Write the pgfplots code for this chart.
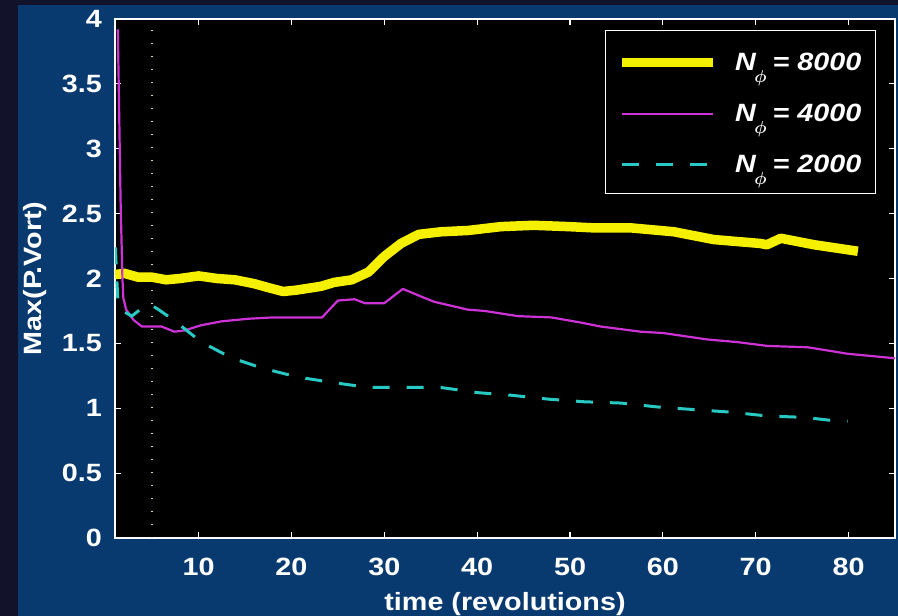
\documentclass[border=0pt]{standalone}
\usepackage{fontspec}
\setmainfont{Liberation Sans}[FakeStretch=1.15]
\usepackage{pgfplots}
\pgfplotsset{compat=1.18}
\definecolor{darkbg}{RGB}{18,18,42}
\definecolor{panelblue}{RGB}{8,58,112}
\definecolor{cY}{RGB}{245,240,0}
\definecolor{cM}{RGB}{205,50,215}
\definecolor{cC}{RGB}{40,200,195}
\definecolor{dotc}{RGB}{225,225,185}
\newcommand{\Nphi}[1]{\textit{N}\kern-2bp\raisebox{-12bp}{\fontsize{18bp}{18bp}\selectfont\boldmath$\phi$}\kern6bp\textit{= #1}}
\begin{document}
\fontsize{25bp}{30bp}\selectfont\bfseries
\begin{tikzpicture}
\fill[darkbg] (0,0) rectangle (898bp,616bp);
\fill[panelblue] (18bp,0) rectangle (898bp,611bp);
\useasboundingbox (0,0) rectangle (898bp,616bp);
\begin{axis}[
  at={(115bp,78bp)}, anchor=south west,
  scale only axis, width=780bp, height=519bp,
  xmin=1, xmax=85, ymin=0, ymax=4,
  xtick={10,20,...,80},
  ytick={0,0.5,1,1.5,2,2.5,3,3.5,4},
  yticklabels={0,0.5,1,1.5,2,2.5,3,3.5,4},
  /pgf/number format/assume math mode=true,
  axis background/.style={fill=black},
  axis line style={white, line width=1.5bp},
  tick style={white, line width=1.2bp},
  major tick length=6bp,
  tick align=inside,
  xticklabel style={text=white, anchor=north, inner sep=0pt, yshift=-20bp},
  yticklabel style={text=white, anchor=east, inner sep=0pt, xshift=-13bp},
  xlabel={time (revolutions)},
  ylabel={Max(P.Vort)},
  x label style={text=white, at={(axis description cs:0.5,0)}, anchor=base, yshift=-72bp},
  y label style={text=white, at={(axis description cs:-0.1026,0.5)}, anchor=center},
  legend cell align=left,
  legend image code/.code={\draw[#1] (0bp,-1.5bp) -- (91bp,-1.5bp);},
  legend style={at={(0.9756,0.9788)}, anchor=north east,
    draw=white, line width=1.2bp, fill=black, text=white,
    inner xsep=12bp, inner ysep=16bp, row sep=22bp, column sep=15bp,
    nodes={inner sep=2bp, text height=22bp, text depth=3bp}},
]
\addplot[forget plot, color=dotc, line width=1.3bp, dash pattern=on 1.3bp off 11.7bp] coordinates {(5,0) (5,4)};
\addplot[cY, line width=9.5bp, line join=round] coordinates {
(1,2.03)(2,2.04)(3.5,2.01)(5,2.01)(6.5,1.99)(8,2.00)(10,2.02)(12,2.00)(13.9,1.99)(16,1.96)(17.5,1.93)(19.1,1.90)(20.5,1.91)(23.2,1.94)(24.6,1.97)(26.5,1.99)(28.3,2.05)(30,2.17)(31.8,2.27)(33.7,2.34)(36.1,2.36)(39,2.37)(42.6,2.40)(46.1,2.41)(49.8,2.40)(52.6,2.39)(56.6,2.39)(61.2,2.36)(65.5,2.30)(70.5,2.27)(71.2,2.26)(72.7,2.31)(76.3,2.26)(81,2.21)
};
\addlegendentry{\Nphi{8000}}
\addplot[cM, line width=2.2bp, line join=round] coordinates {
(1.3,3.92)(1.4,3.5)(1.6,2.6)(1.8,2.0)(1.9,1.85)(2.2,1.76)(3.0,1.68)(3.9,1.63)(6.0,1.63)(7.4,1.59)(8.5,1.60)(10.3,1.64)(12.5,1.67)(15.4,1.69)(18,1.70)(23.3,1.70)(25,1.83)(26.8,1.84)(27.9,1.81)(30,1.81)(32,1.92)(34,1.86)(35.4,1.82)(39,1.76)(40.8,1.75)(44.4,1.71)(48,1.70)(51.2,1.66)(53.3,1.63)(57.6,1.59)(60,1.58)(64.8,1.53)(68,1.51)(71.3,1.48)(75.6,1.47)(79.9,1.42)(85,1.385)
};
\addlegendentry{\Nphi{4000}}
\addplot[cC, line width=3bp, dash pattern=on 17bp off 17bp] coordinates {
(1.05,2.24)(1.15,2.05)(1.3,1.85)(1.6,1.76)(2.8,1.71)(4.05,1.78)(4.8,1.80)(5.7,1.76)(7.3,1.68)(10.3,1.51)(13.5,1.39)(16.8,1.31)(20.7,1.24)(24.3,1.20)(28.3,1.16)(32,1.16)(36.1,1.16)(40.1,1.12)(43.7,1.10)(47.7,1.07)(51.5,1.05)(55.5,1.04)(59.4,1.01)(63.3,0.99)(67.3,0.97)(71.3,0.94)(75.2,0.93)(78.9,0.90)(79.9,0.90)
};
\addlegendentry{\Nphi{2000}}
\end{axis}
\end{tikzpicture}
\end{document}
